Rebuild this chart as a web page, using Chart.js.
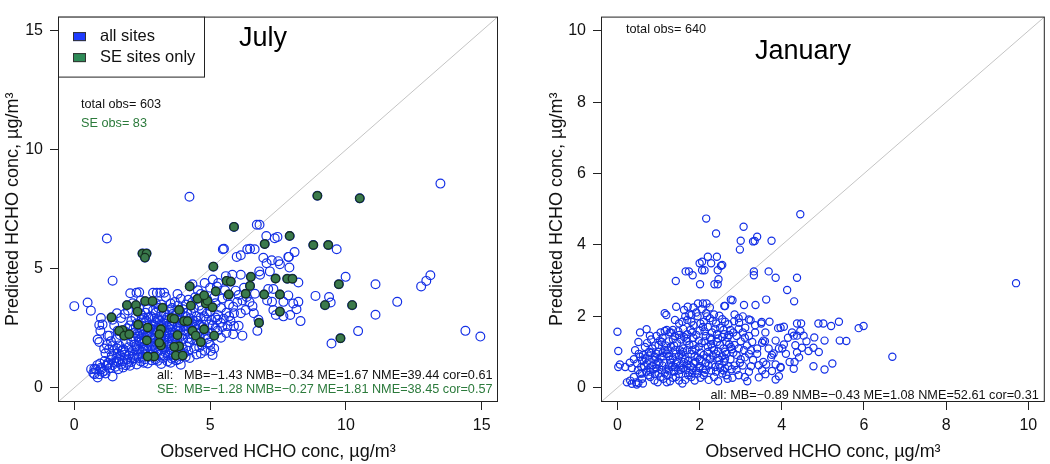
<!DOCTYPE html>
<html lang="en">
<head>
<meta charset="UTF-8">
<title>Predicted vs observed HCHO</title>
<script src="https://cdn.jsdelivr.net/npm/chart.js"></script>
<style>
  body { margin: 0; background: #fff; }
  #wrap { position: relative; width: 1050px; height: 464px; }
  canvas { position: absolute; top: 0; }
</style>
</head>
<body>
<div id="wrap">
  <canvas id="july" width="530" height="464" style="left:0"></canvas>
  <canvas id="jan" width="520" height="464" style="left:530px"></canvas>
</div>
<script>
// ---- data: [observed, predicted] pairs ----
const julyOtherSites = [
  [0.00,3.43],[0.49,3.58],[0.61,3.24],[1.20,6.27],[1.41,4.50],[4.24,8.03],[13.48,8.58],
  [6.72,6.85],[6.82,6.85],[7.07,6.38],[7.48,6.34],[7.38,6.28],
  [5.47,5.82],[5.98,5.50],[6.37,5.82],[6.64,5.82],[8.11,5.70],[7.90,5.50],[9.66,5.82],
  [9.99,4.66],[11.09,4.35],[12.77,4.26],[12.96,4.49],[13.11,4.73],[11.89,3.61],[11.09,3.07],
  [10.45,2.38],[14.40,2.39],[14.95,2.15],[9.47,1.86],[8.88,3.86],[9.38,3.81],[9.44,3.58],
  [8.33,2.80],[8.25,4.42],[6.74,2.39],[5.02,1.54],[1.41,0.47],[0.86,0.43],[0.74,0.80],
  [0.86,2.03],[1.23,2.19],[0.92,2.64],[0.98,2.93],[2.29,3.99],[2.90,3.99],[3.04,3.99],
  [3.17,3.99],[3.31,3.99],
  [5.51,5.84],[6.13,5.57],[6.47,5.84],[7.88,5.50],[7.92,5.05],[7.57,5.19],[7.51,5.32],
  [7.27,5.36],[6.96,5.46],[7.08,5.23],[7.20,4.89],[6.81,4.89],[6.84,4.75],[7.14,4.15],
  [7.33,4.15],[5.58,4.69],[5.82,4.75],[6.13,4.75],[5.94,4.08],[6.25,4.20],[4.35,4.35],
  [4.55,4.10],[5.00,4.20],[5.30,4.40],[5.10,4.55],[4.80,4.40],
  [7.10,3.67],[7.28,3.61],[7.70,3.61],[7.88,3.88],[8.06,3.54],[8.25,3.61],[8.18,3.30],
  [7.95,3.06],[7.70,3.00],[7.42,3.06],[7.33,3.27],[6.61,3.13],[6.78,2.86],[6.56,3.43],[6.35,3.81],
  [0.62,0.78],[0.74,0.57],[0.80,0.77],[0.92,0.57],[0.98,0.84],[1.04,0.66],[1.10,0.70],
  [1.18,0.92],[1.23,0.97],[1.35,1.18],[1.30,0.82],[1.47,1.05],[1.52,0.88],[1.12,1.12],
  [0.95,1.02],[1.60,1.44],[1.47,1.58],[1.38,1.35],[1.66,1.20],[1.72,0.98],[1.84,1.38],[1.78,1.12],
  [0.92,1.92],[1.10,1.65],[1.29,2.19],[0.96,2.39],[1.04,2.66],[1.41,2.86],[1.47,2.62],
  [1.57,3.13],[1.72,2.93],[1.20,1.80],[1.35,1.95],[1.55,2.05],[1.65,1.78],[1.80,1.62],
  [1.90,1.90],[2.00,1.70],[1.95,2.50],[1.60,2.40],[2.10,2.80],[1.85,3.10],[2.06,3.97],[2.39,4.01],
  [2.21,1.24],[2.45,1.10],[2.60,1.20],[2.85,1.15],[3.07,1.13],[3.43,1.10],[3.25,1.25],
  [3.92,0.97],[3.60,1.22],[2.35,1.40],[2.00,1.35],[4.10,1.30],
  [2.15,1.55],[2.30,1.62],[2.50,1.50],[2.70,1.58],[2.90,1.45],[3.10,1.55],[3.35,1.48],
  [3.55,1.60],[3.75,1.50],[4.00,1.62],[4.20,1.55],[4.41,1.65],[4.66,1.44],[5.09,1.38],
  [2.55,1.72],[3.00,1.70],[3.40,1.75],[3.85,1.78],
  [2.10,1.95],[2.25,2.05],[2.42,1.90],[2.60,2.00],[2.78,1.85],[2.95,2.05],[3.10,1.92],
  [3.30,2.00],[3.45,1.88],[3.60,2.08],[3.80,1.95],[4.00,2.05],[4.25,1.90],[4.50,2.00],
  [4.90,2.05],[5.15,1.65],[4.70,1.80],[3.20,2.12],
  [2.20,2.30],[2.40,2.40],[2.55,2.25],[2.75,2.35],[2.90,2.45],[3.05,2.30],[3.22,2.40],
  [3.40,2.25],[3.55,2.45],[3.70,2.30],[3.90,2.40],[4.05,2.25],[4.30,2.45],[4.55,2.30],
  [4.80,2.40],[5.27,2.39],[5.05,2.30],[6.19,2.19],
  [2.30,2.70],[2.50,2.60],[2.65,2.80],[2.85,2.60],[3.00,2.75],[3.20,2.60],[3.35,2.85],
  [3.50,2.65],[3.65,2.80],[3.80,2.60],[4.00,2.75],[4.20,2.60],[4.40,2.80],[4.60,2.65],
  [4.96,2.66],[5.39,2.73],[5.64,2.59],[5.88,2.59],[5.27,2.86],
  [2.45,3.10],[2.57,2.93],[2.82,3.00],[3.00,3.15],[3.20,3.00],[3.49,3.27],[3.70,3.05],
  [3.90,3.20],[4.10,3.00],[4.30,3.15],[4.50,3.00],[4.78,3.00],[5.00,3.20],[5.30,3.05],
  [5.60,3.15],[5.88,3.13],[6.13,3.13],[6.31,3.27],[2.39,3.34],[2.70,3.30],
  [2.45,3.67],[3.37,3.81],[3.55,3.54],[3.80,3.94],[3.92,3.74],[4.10,3.50],[4.35,3.60],
  [4.60,3.45],[4.66,3.94],[4.90,3.70],[5.20,3.55],[5.45,3.75],[5.70,3.50],[6.00,3.60],[6.19,3.67],
  [2.65,1.65],[2.85,1.75],[3.05,1.82],[3.25,1.70],[3.50,1.80],[3.70,1.70],[2.70,2.15],
  [2.95,2.20],[3.15,2.25],[3.35,2.15],[3.50,2.30],[3.75,2.15],[3.25,2.50],[3.45,2.55],
  [2.80,2.50],[3.10,2.05],[3.60,1.95],[2.50,1.85],[2.35,2.15],[2.60,2.45],
  [1.55,1.25],[1.70,1.35],[1.85,1.50],[1.95,1.20],[2.05,1.45],[2.20,1.38],[2.28,1.75],
  [2.40,1.62],[2.52,1.30],[2.62,1.42],[2.75,1.30],[2.88,1.60],[2.98,1.35],[3.15,1.40],
  [3.30,1.62],[3.45,1.35],[3.52,1.50],[3.65,1.40],[3.82,1.62],[3.95,1.45],
  [2.12,2.15],[2.32,2.28],[2.48,2.08],[2.68,2.28],[2.85,2.10],[3.02,2.42],[3.18,2.18],
  [3.32,2.35],[3.48,2.08],[3.62,2.22],[3.78,2.42],[3.95,2.18],[4.12,2.38],[4.18,2.08],
  [4.38,2.22],[4.62,2.15],[4.72,2.55],[4.45,2.62],
  [2.40,2.55],[2.58,2.72],[2.75,2.50],[2.92,2.65],[3.08,2.88],[3.28,2.72],[3.42,2.95],
  [3.60,2.58],[3.75,2.92],[3.88,2.72],[4.08,2.58],[4.25,2.92],[4.52,2.82],[4.85,2.85],
  [5.10,2.62],[5.20,2.95],[5.50,2.90],[5.75,2.80],
  [2.62,3.15],[2.90,3.25],[3.10,3.35],[3.30,3.15],[3.60,3.35],[3.82,3.45],[4.00,3.30],
  [4.20,3.70],[4.40,3.35],[4.70,3.25],[4.95,3.45],[5.15,3.80],[5.40,3.35],[5.65,3.85],
  [5.85,3.40],[6.05,3.90],[6.45,3.60],[6.65,3.95],[5.25,4.25],[5.55,4.10],
  [1.62,1.08],[1.90,0.95],[2.10,1.08],[2.30,0.98],[2.70,1.02],[3.20,1.00],[3.55,1.05],
  [3.75,1.15],[4.25,1.25],[4.50,1.40],[4.80,1.55],[5.00,1.80],[5.40,2.10],[5.60,2.30],
  [5.85,2.25],[6.05,2.60],
  [1.15,1.45],[1.28,1.62],[1.42,1.78],[1.58,1.65],[1.75,1.55],[1.68,2.22],[1.88,2.35],
  [2.05,2.62],[2.18,2.48],[2.25,2.95],[1.98,3.25],[2.15,3.55],
  [0.70,0.62],[0.85,0.95],[1.00,0.78],[1.15,0.60],[1.25,1.05],[1.40,0.95],[1.55,1.12],
  [1.62,0.78],[1.80,0.85],[1.95,1.05],[2.05,0.92],[2.15,1.30],[2.38,1.25],[2.55,1.05],
  [2.80,1.38],[3.00,1.20],[3.30,1.35],[3.65,1.28],[3.85,1.20],[4.05,1.45],
  [2.22,1.82],[2.38,2.00],[2.52,1.62],[2.68,1.92],[2.82,2.32],[2.98,1.90],[3.12,2.62],
  [3.28,1.85],[3.42,2.42],[3.58,2.68],[3.72,2.05],[3.85,2.55],[4.02,2.42],[4.15,1.72],
  [4.32,2.05],[4.42,2.55],[4.60,1.70],[4.85,2.20],[4.95,1.90],[5.20,2.50],
  [2.48,2.88],[2.72,2.95],[2.95,2.92],[3.15,2.80],[3.38,3.05],[3.62,3.10],[3.85,2.85],
  [4.15,3.15],[4.35,2.70],[4.65,2.95],[4.88,3.12],[5.05,2.85],[5.45,2.55],[5.70,3.00],
  [3.20,3.50],[3.00,3.55],[3.70,3.60],[4.45,3.80]
];

const julySESites = [
  [8.95,8.07],[10.51,7.96],[5.88,6.76],[7.01,6.04],[7.93,6.38],[8.80,6.00],[9.35,6.00],
  [2.51,5.64],[2.66,5.64],[2.60,5.47],[5.12,5.09],[6.50,4.66],[7.41,4.59],[7.84,4.58],
  [8.03,4.58],[5.61,4.49],[5.76,4.46],[9.74,4.35],[9.23,3.47],[10.23,3.47],[9.80,2.08],
  [6.80,2.73],[7.57,3.20],[6.99,3.92],[7.57,3.92],[6.31,3.95],[6.47,4.28],[5.21,4.05],
  [5.69,3.92],[4.25,4.26],[4.54,3.74],[4.84,3.54],[4.90,3.65],[5.09,3.38],[4.78,3.88],
  [4.29,3.45],[2.61,3.64],[2.88,3.64],[1.94,3.47],[2.27,3.47],[2.33,3.20],[3.25,3.36],
  [3.58,2.93],[3.86,3.27],[1.37,2.96],[4.04,2.80],[4.17,2.80],[2.35,2.65],[2.70,2.53],
  [1.78,2.42],[1.65,2.39],[1.84,2.19],[2.02,2.25],[2.67,1.99],[3.19,2.46],[3.13,2.25],
  [3.19,1.78],[2.94,1.31],[2.70,1.31],[3.68,2.90],[3.80,2.21],[3.86,1.74],[3.74,1.35],
  [3.99,1.35],[4.35,2.39],[4.47,2.19],[4.66,1.92],[4.78,2.46],[5.15,2.19],[3.13,1.89],[3.68,1.72]
];

const janSites = [
  [2.16,4.74],[4.45,4.86],[3.07,4.51],[2.40,4.32],[3.00,4.12],[3.75,4.12],[3.34,4.11],
  [3.40,4.23],[3.30,4.10],[2.98,3.87],[2.20,3.67],[2.42,3.67],[2.00,3.49],[2.06,3.53],
  [2.28,3.49],[2.52,3.42],[2.55,3.44],[1.66,3.26],[1.74,3.26],[2.06,3.29],[2.12,3.29],
  [2.44,3.29],[1.83,3.15],[1.42,2.99],[2.46,3.04],[2.01,2.90],[2.36,2.90],[2.44,2.90],
  [3.32,3.26],[3.32,3.15],[3.68,3.26],[3.85,3.08],[4.37,3.08],[4.13,2.74],[3.62,2.47],
  [4.30,2.42],[2.76,2.47],[3.08,2.32],[3.36,2.32],[2.60,2.29],[9.70,2.93],[6.69,0.87],
  [0.00,1.57],[0.02,1.03],[0.06,0.65],[0.02,0.58],[0.19,0.58],[0.23,0.15],[0.31,0.20],
  [0.47,0.09],[0.51,0.13],[0.35,0.11],
  [4.89,1.80],[5.01,1.80],[5.20,1.73],[5.39,1.85],[5.87,1.67],[5.99,1.73],[4.37,1.80],
  [4.47,1.80],[3.91,1.67],[4.05,1.71],[4.79,1.41],[5.04,1.32],[5.41,1.32],[5.57,1.31],
  [4.49,1.12],[4.77,1.12],[4.65,1.03],[4.33,1.19],[4.37,0.99],[4.42,0.85],[4.19,0.72],
  [4.31,0.72],[4.29,0.53],[4.77,0.60],[5.04,0.51],[5.23,0.68],[3.97,0.58],[3.85,0.23],
  [3.93,0.32],[3.52,0.49],[3.62,0.65],[3.44,0.63],[3.20,0.45],[3.16,0.18],[3.74,0.85],
  [3.80,0.96],[4.05,1.21],[4.01,1.10],[3.52,1.26],[3.59,1.30],[3.50,1.80],[3.20,1.91],
  [4.29,1.46],[4.37,1.46],[4.45,1.59],[4.53,1.46],
  [3.51,1.84],[3.24,1.89],[2.96,1.82],[2.84,1.86],[3.11,1.68],[3.35,1.55],[3.60,1.55],
  [3.97,1.68],[4.25,1.55],[3.85,1.32],[3.55,1.32],[3.28,1.28],[3.08,1.05],[2.76,1.14],
  [2.62,1.01],[2.44,0.83],[3.76,0.92],[3.93,1.10],[3.97,0.56],[3.76,0.47],[3.60,0.38],[3.44,0.29],
  [0.55,1.55],[0.71,1.64],[0.79,1.46],[0.51,1.28],[0.43,1.05],[0.55,0.87],[0.67,1.14],
  [0.77,1.01],[0.91,0.87],[1.03,1.32],[1.15,1.59],[1.27,1.55],[1.15,2.09],[1.19,2.04],
  [1.43,2.27],[1.71,2.27],[1.80,2.04],[1.96,2.36],[2.08,2.36],[2.17,2.36],[1.92,2.11],
  [2.16,2.09],[2.62,2.29],[2.80,2.45],
  [0.40,0.30],[0.60,0.25],[0.75,0.35],[0.90,0.20],[1.05,0.30],[1.20,0.15],[1.35,0.28],
  [1.50,0.38],[1.65,0.22],[1.80,0.30],[1.95,0.40],[2.10,0.35],[2.35,0.30],[2.55,0.40],
  [2.80,0.28],[1.00,0.40],
  [0.35,0.55],[0.50,0.50],[0.65,0.60],[0.80,0.45],[0.95,0.55],[1.10,0.62],[1.25,0.48],
  [1.40,0.58],[1.55,0.50],[1.70,0.65],[1.85,0.55],[2.00,0.60],[2.15,0.50],[2.30,0.65],
  [2.50,0.55],[2.70,0.60],[2.90,0.50],[3.05,0.62],[0.30,0.70],[1.30,0.70],[1.90,0.72],[2.60,0.72],
  [0.40,0.80],[0.60,0.75],[0.75,0.90],[0.90,0.78],[1.05,0.85],[1.20,0.95],[1.35,0.82],
  [1.50,0.90],[1.65,0.80],[1.80,0.95],[1.95,0.85],[2.10,0.92],[2.25,0.80],[2.40,0.95],
  [2.55,0.88],[2.75,0.80],[2.90,0.92],[3.10,0.85],[3.30,0.78],[1.00,1.00],[1.60,1.00],[2.20,1.00],
  [0.85,1.10],[1.00,1.20],[1.15,1.05],[1.30,1.15],[1.45,1.25],[1.60,1.10],[1.75,1.20],
  [1.90,1.08],[2.05,1.25],[2.20,1.15],[2.35,1.05],[2.50,1.20],[2.65,1.28],[2.85,1.20],
  [3.00,1.30],[3.15,1.18],[3.40,1.10],[1.25,1.30],
  [1.10,1.40],[1.30,1.55],[1.40,1.45],[1.55,1.35],[1.70,1.50],[1.85,1.40],[2.00,1.60],
  [2.15,1.45],[2.30,1.55],[2.45,1.38],[2.60,1.50],[2.75,1.62],[2.90,1.45],[3.05,1.55],
  [1.60,1.65],[2.20,1.70],[2.50,1.68],
  [1.50,1.80],[1.70,1.90],[1.85,1.75],[1.95,2.00],[2.10,1.85],[2.25,1.95],[2.40,1.80],
  [2.55,1.92],[2.70,1.78],[2.35,2.05],[1.75,2.05],[1.65,2.00],[2.95,1.95],
  [0.70,0.45],[0.85,0.62],[1.15,0.40],[1.45,0.72],[1.75,0.42],[2.05,0.75],[1.25,0.62],
  [1.60,0.55],[0.95,0.95],[1.40,1.05],[1.85,1.20],[2.40,0.45],[2.65,0.35],[1.50,0.20],[0.55,0.40],
  [0.45,0.15],[0.62,0.12],[0.80,0.30],[0.98,0.15],[1.12,0.25],[1.28,0.18],[1.42,0.30],
  [1.58,0.12],[1.72,0.35],[1.88,0.20],[2.02,0.28],[2.22,0.22],[2.45,0.18],[2.68,0.25],
  [2.95,0.35],[3.10,0.30],
  [0.48,0.68],[0.58,0.58],[0.72,0.68],[0.88,0.52],[1.02,0.70],[1.18,0.52],[1.32,0.58],
  [1.48,0.48],[1.62,0.72],[1.78,0.60],[1.92,0.48],[2.08,0.52],[2.22,0.62],[2.38,0.58],
  [2.58,0.48],[2.78,0.52],[2.98,0.70],[3.25,0.60],
  [0.52,0.95],[0.68,0.82],[0.82,0.98],[0.98,0.72],[1.12,0.88],[1.28,0.78],[1.42,0.95],
  [1.58,0.85],[1.72,0.75],[1.88,0.88],[2.02,0.98],[2.18,0.85],[2.32,0.90],[2.48,0.78],
  [2.65,0.95],[2.82,0.98],[3.00,0.80],[3.20,0.95],
  [0.72,1.25],[0.92,1.18],[1.08,1.28],[1.22,1.05],[1.38,1.18],[1.52,1.05],[1.68,1.30],
  [1.82,1.05],[1.98,1.15],[2.12,1.30],[2.28,1.22],[2.42,1.28],[2.58,1.10],[2.72,1.22],
  [2.95,1.10],[3.25,1.05],
  [0.95,1.45],[1.20,1.62],[1.35,1.35],[1.48,1.58],[1.62,1.42],[1.78,1.62],[1.92,1.48],
  [2.08,1.70],[2.25,1.40],[2.38,1.65],[2.55,1.42],[2.68,1.40],[2.82,1.55],[3.20,1.45],
  [1.40,1.90],[1.58,1.85],[1.80,1.85],[2.02,1.80],[2.18,2.00],[2.32,1.88],[2.48,2.02],
  [2.62,1.85],[2.85,2.05],[3.05,2.00],[1.62,2.18],[1.85,2.25],[2.05,2.20],[2.25,2.25],
  [3.40,0.95],[3.55,0.72],[3.68,1.10],[3.85,0.65],[4.10,0.95],[4.15,1.40],[3.35,1.75],
  [3.70,1.85],[4.60,1.30],[4.90,1.00],
  [0.60,0.40],[0.78,0.55],[0.92,0.38],[1.08,0.50],[1.22,0.35],[1.38,0.45],[1.52,0.62],
  [1.68,0.50],[1.82,0.42],[1.98,0.55],[2.12,0.42],[2.28,0.48],[2.48,0.65],[2.62,0.55],[2.85,0.62],
  [0.62,0.92],[0.78,0.78],[0.95,0.65],[1.10,0.98],[1.25,0.88],[1.42,0.68],[1.55,0.95],
  [1.70,1.05],[1.85,0.68],[2.00,0.80],[2.15,0.70],[2.30,1.12],[2.45,1.02],[2.62,0.82],[2.78,1.08],
  [0.82,1.35],[1.05,1.55],[1.18,1.18],[1.35,1.62],[1.50,1.48],[1.68,1.38],[1.82,1.55],
  [1.98,1.32],[2.12,1.58],[2.28,1.35],[2.42,1.50],[2.58,1.62],[2.72,1.48],[2.95,1.65],[3.10,1.40]
];

const julyRange = [-0.6, 15.6];
const julyTicks = [0, 5, 10, 15];
const janRange = [-0.4, 10.4];
const janTicks = [0, 2, 4, 6, 8, 10];

const FONT = '"Liberation Sans", Arial, Helvetica, sans-serif';
const BLUE = '#1430e6';
const GREEN_TXT = '#2b7a3b';
const xTitle = 'Observed HCHO conc, \u00b5g/m\u00b3';
const yTitle = 'Predicted HCHO conc, \u00b5g/m\u00b3';

const toXY = arr => arr.map(p => ({ x: p[0], y: p[1] }));

function axis(range, ticks, title, size, titlePad, tickPad) {
  return {
    type: 'linear', min: range[0], max: range[1],
    afterBuildTicks: s => { s.ticks = ticks.map(v => ({ value: v })); },
    afterFit: s => { if (s.isHorizontal()) s.height = size; else s.width = size; },
    grid: { drawOnChartArea: false, drawTicks: true, tickLength: 8, color: '#222' },
    border: { display: false },
    ticks: { color: '#111', font: { size: 16, family: FONT }, padding: tickPad,
             autoSkip: false, maxRotation: 0, callback: v => String(v) },
    title: { display: true, text: title, color: '#111', font: { size: 18, family: FONT }, padding: titlePad }
  };
}

// frame, legend and the in-plot text
const notes = {
  id: 'notes',
  afterDraw(chart, args, o) {
    const { ctx, chartArea: a } = chart;
    ctx.save();
    ctx.strokeStyle = '#222';
    ctx.lineWidth = 1;
    ctx.strokeRect(a.left + 0.5, a.top + 0.5, a.right - a.left - 1, a.bottom - a.top - 1);
    if (o.legend) {
      const w = 146, h = 60;
      ctx.fillStyle = '#fff';
      ctx.fillRect(a.left, a.top, w, h);
      ctx.strokeRect(a.left + 0.5, a.top + 0.5, w, h);
      o.legend.forEach((e, i) => {
        const cy = a.top + 20 + i * 21;
        ctx.fillStyle = e.color;
        ctx.fillRect(a.left + 15, cy - 4.5, 13, 9);
        ctx.strokeStyle = '#333';
        ctx.strokeRect(a.left + 15.5, cy - 4, 12, 8);
        ctx.fillStyle = '#111';
        ctx.font = '16.5px ' + FONT;
        ctx.textAlign = 'left';
        ctx.textBaseline = 'middle';
        ctx.fillText(e.text, a.left + 42, cy);
      });
    }
    o.items.forEach(t => {
      ctx.font = t.size + 'px ' + FONT;
      ctx.fillStyle = t.color || '#111';
      ctx.textAlign = t.align || 'left';
      ctx.textBaseline = 'middle';
      const x = t.right !== undefined ? a.right - t.right : a.left + t.dx;
      const y = t.bottom !== undefined ? a.bottom - t.bottom : a.top + t.dy;
      ctx.fillText(t.text, x, y);
    });
    ctx.restore();
  }
};

function makePanel(id, cfg) {
  return new Chart(document.getElementById(id), {
    type: 'scatter',
    data: { datasets: cfg.datasets },
    options: {
      responsive: false, animation: false, devicePixelRatio: 1, events: [],
      layout: { padding: cfg.padding },
      plugins: { legend: { display: false }, tooltip: { enabled: false }, notes: cfg.notes },
      scales: {
        x: axis(cfg.range, cfg.ticks, xTitle, 62, { top: 0, bottom: 1 }, 6),
        y: axis(cfg.range, cfg.ticks, yTitle, cfg.yWidth, { top: cfg.yTitlePad, bottom: 0 }, 7)
      }
    },
    plugins: [notes]
  });
}

function diagonal(range) {
  return { data: [{ x: range[0], y: range[0] }, { x: range[1], y: range[1] }],
           showLine: true, pointRadius: 0, borderColor: '#c4c4c4', borderWidth: 1, order: 3 };
}

makePanel('july', {
  range: julyRange, ticks: julyTicks, yWidth: 58, yTitlePad: 2,
  padding: { top: 3, right: 32, left: 0, bottom: 0 },
  datasets: [
    { label: 'SE sites only', data: toXY(julySESites), pointRadius: 4.2, borderWidth: 1.3,
      backgroundColor: '#3a7a4c', borderColor: '#16301f', order: 0 },
    { label: 'all sites', data: toXY(julyOtherSites.concat(julySESites)), pointRadius: 4.4,
      borderWidth: 1.2, backgroundColor: 'rgba(0,0,0,0)', borderColor: BLUE, order: 1 },
    diagonal(julyRange)
  ],
  notes: {
    legend: [{ text: 'all sites', color: '#1f3cff' }, { text: 'SE sites only', color: '#2e8b57' }],
    items: [
      { text: 'July', dx: 205, dy: 22, size: 27, align: 'center', color: '#000' },
      { text: 'total obs= 603', dx: 23, dy: 88, size: 12.7 },
      { text: 'SE obs= 83', dx: 23, dy: 107, size: 12.7, color: GREEN_TXT },
      { text: 'all:', dx: 99, bottom: 27, size: 12.7 },
      { text: 'MB=\u22121.43 NMB=\u22120.34 ME=1.67 NME=39.44 cor=0.61', dx: 126, bottom: 27, size: 12.7 },
      { text: 'SE:', dx: 99, bottom: 13, size: 12.7, color: GREEN_TXT },
      { text: 'MB=\u22121.28 NMB=\u22120.27 ME=1.81 NME=38.45 cor=0.57', dx: 126, bottom: 13, size: 12.7, color: GREEN_TXT }
    ]
  }
});

makePanel('jan', {
  range: janRange, ticks: janTicks, yWidth: 71, yTitlePad: 16,
  padding: { top: 3, right: 2, left: 0, bottom: 0 },
  datasets: [
    { label: 'all sites', data: toXY(janSites), pointRadius: 3.6, borderWidth: 1.2,
      backgroundColor: 'rgba(0,0,0,0)', borderColor: BLUE, order: 1 },
    diagonal(janRange)
  ],
  notes: {
    items: [
      { text: 'January', dx: 202, dy: 34.5, size: 27, align: 'center', color: '#000' },
      { text: 'total obs= 640', dx: 25, dy: 13, size: 12.7 },
      { text: 'all: MB=\u22120.89 NMB=\u22120.43 ME=1.08 NME=52.61 cor=0.31', right: 6, bottom: 7, size: 12.7, align: 'right' }
    ]
  }
});
</script>
</body>
</html>
